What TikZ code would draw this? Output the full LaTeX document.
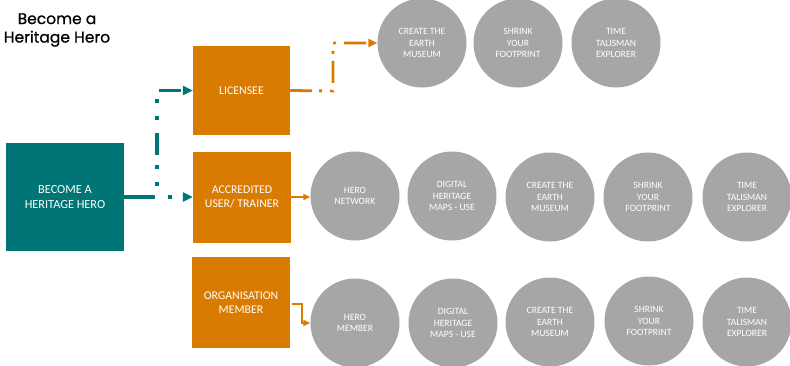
\documentclass[tikz,border=0pt]{standalone}
\usepackage{fontspec}
\setmainfont{Carlito}
\newfontfamily\titlefont{Poppins}[FakeBold=0.8]
\usetikzlibrary{arrows.meta}
\definecolor{tealc}{HTML}{007575}
\definecolor{orng}{HTML}{D97B00}
\definecolor{greyc}{HTML}{A6A6A6}
\begin{document}
\begin{tikzpicture}[x=1pt,y=-1pt,
  obox/.style={fill=orng, minimum width=98pt, minimum height=90pt, inner sep=0pt, text=white, font=\fontsize{11.8}{14.5}\selectfont, align=center},
  tbox/.style={fill=tealc, minimum width=118pt, minimum height=108pt, inner sep=0pt, text=white, font=\fontsize{12.3}{14.5}\selectfont, align=center},
  gcirc/.style={circle, fill=greyc, minimum size=89pt, inner sep=0pt, text=white, font=\fontsize{9.6}{11.7}\selectfont, align=center},
  tealline/.style={draw=tealc, line width=3.5pt, dash pattern=on 22pt off 13pt on 4pt off 13pt on 4pt off 10pt, dash phase=57pt, -{Triangle[length=10pt,width=9pt]}},
  tealsolid/.style={draw=tealc, line width=3.5pt},
  orngdash/.style={draw=orng, line width=2.8pt, dash pattern=on 22pt off 7pt on 3pt off 8pt on 3pt off 8pt, -{Triangle[length=9pt,width=8pt]}},
  orngthin/.style={draw=orng, line width=2pt, -{Triangle[length=7pt,width=6pt]}}
]
\useasboundingbox (0,0) rectangle (790,365);

% title
\node[font=\titlefont\fontsize{15.5}{18.5}\selectfont, align=center] (title) at (57,30) {Become a\\Heritage Hero};

% main boxes
\node[tbox] (hero) at (65,197) {BECOME A\\HERITAGE HERO};
\node[obox, minimum height=89pt, minimum width=97pt] (lic) at (241.5,90.5) {LICENSEE};
\node[obox, minimum height=91pt] (acc) at (242,197) {ACCREDITED\\USER/ TRAINER};
\node[obox, minimum height=91pt] (org) at (241,302.5) {ORGANISATION\\MEMBER};

% top row circles
\node[gcirc] (t1) at (422,43) {CREATE THE\\EARTH\\MUSEUM};
\node[gcirc] (t2) at (518,43) {SHRINK\\YOUR\\FOOTPRINT};
\node[gcirc] (t3) at (616,43) {TIME\\TALISMAN\\EXPLORER};

% middle row circles
\node[gcirc] (m1) at (355,196) {HERO\\NETWORK};
\node[gcirc] (m2) at (452,196) {DIGITAL\\HERITAGE\\MAPS - USE};
\node[gcirc] (m3) at (550,197) {CREATE THE\\EARTH\\MUSEUM};
\node[gcirc] (m4) at (648,197) {SHRINK\\YOUR\\FOOTPRINT};
\node[gcirc] (m5) at (747,197) {TIME\\TALISMAN\\EXPLORER};

% bottom row circles
\node[gcirc] (b1) at (355,323) {HERO\\MEMBER};
\node[gcirc] (b2) at (453,323) {DIGITAL\\HERITAGE\\MAPS - USE};
\node[gcirc] (b3) at (550,322) {CREATE THE\\EARTH\\MUSEUM};
\node[gcirc] (b4) at (649,321) {SHRINK\\YOUR\\FOOTPRINT};
\node[gcirc] (b5) at (747,322) {TIME\\TALISMAN\\EXPLORER};

% connectors
\coordinate (tj) at (157,197);
\coordinate (ts) at (155,197);
\draw[tealsolid] (hero.east) -- (ts);
\draw[tealline] (hero.east) -- (tj) |- (lic.west);
\draw[tealline] (hero.east) -- (acc.west);

\coordinate (oj) at (333,91);
\draw[orngdash] (lic.east) -- (oj) |- (t1.west);

\draw[orngthin] (acc.east) -- (m1.west |- acc.east);

\coordinate (oc) at (302,323);
\draw[orngthin] ([xshift=2pt,yshift=-1.5pt]org.east) -| (oc) -- (b1.west);
\end{tikzpicture}
\end{document}
